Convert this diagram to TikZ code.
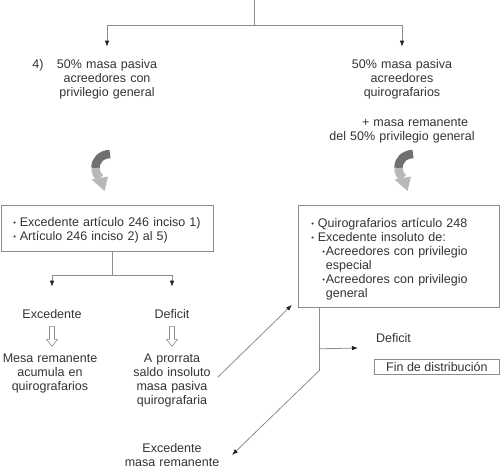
\documentclass[tikz,border=0pt]{standalone}
\usepackage{fontspec}
\setmainfont{Liberation Sans}
\usepackage{graphicx}
\usetikzlibrary{arrows.meta,calc}
\definecolor{linec}{HTML}{8C8C8C}
\definecolor{txtc}{HTML}{333333}
\definecolor{tipc}{HTML}{222222}
\definecolor{darkarr}{HTML}{707070}
\definecolor{lightarr}{HTML}{B8B8B8}
\newcommand{\bul}{\raisebox{0.7pt}{\scalebox{0.6}{•}}}
\newcommand{\tb}[1]{\makebox[6.5pt][l]{\bul}#1}
\newcommand{\sbl}[1]{\hspace*{11pt}\makebox[3.5pt][l]{\bul}#1}
\newcommand{\cnt}[1]{\hspace*{14.5pt}#1}
\begin{document}
\begin{tikzpicture}[x=1pt,y=-1pt,
  font=\fontsize{12.5}{14}\selectfont, text=txtc,
  conn/.style={draw=linec, line width=0.8pt},
  arr/.style={conn, -{Latex[length=6pt,width=4.5pt,color=tipc]}},
  txt/.style={inner sep=0pt, text width=#1, align=center, anchor=base},
  lbl/.style={inner sep=0pt, anchor=base},
  box/.style={draw=linec, line width=0.8pt, inner ysep=0pt, align=left, anchor=north west},
  hollow/.pic={\draw[linec, line width=0.6pt, fill=white] (-2.5,0) -- (-2.5,13) -- (-5.5,13) -- (0,20) -- (5.5,13) -- (2.5,13) -- (2.5,0) -- cycle;},
  curv/.pic={
    \draw[darkarr, line width=8.5pt] (10,-16) .. controls (1,-15.5) and (-4.5,-10) .. (-4.5,-2);
    \draw[lightarr, line width=8.5pt] (-4.5,-2) .. controls (-4.5,2) and (-3,5) .. (0,8);
    \fill[lightarr] (-8.5,9.5) -- (8,6.5) -- (4.5,21) -- cycle;}
]
\useasboundingbox (0,0) rectangle (500,468);

% top branch
\coordinate (t0) at (254,0);
\coordinate (t1) at (254,25);
\node[txt=120pt] (lt) at (107,69) {50\% masa pasiva\\acreedores con\\privilegio general};
\node[lbl] (lt4) at (38,69) {4)};
\node[txt=150pt] (rt) at (402,69) {50\% masa pasiva\\acreedores\\quirografarios};
\node[txt=160pt] (rt2) at (402,126) {\hspace*{26pt}+ masa remanente\\del 50\% privilegio general};
\draw[conn] (t0) -- (t1);
\draw[arr, shorten >=13pt] (t1) -| (lt.north);
\draw[arr, shorten >=13pt] (t1) -| (rt.north);

% curved arrows
\pic at (100,170) {curv};
\pic at (403,170) {curv};

% left box
\node[box, minimum width=212pt, text width=188pt, inner xsep=12pt, text height=21pt, text depth=25pt] (lb) at (1,205)
  {\tb{Excedente artículo 246 inciso 1)}\\\tb{Artículo 246 inciso 2) al 5)}};
\coordinate (lj0) at ([xshift=5pt]lb.south);
\coordinate (lj1) at ([xshift=5pt,yshift=-24pt]lb.south);
\node[lbl] (exc) at (52,318) {Excedente};
\node[lbl] (def) at (172,318) {Deficit};
\draw[conn] (lj0) -- (lj1);
\draw[arr, shorten >=22pt] (lj1) -| (exc.north);
\draw[arr, shorten >=22pt] (lj1) -| (def.north);
\pic at ([yshift=-8pt]exc.south) {hollow};
\pic at ([yshift=-8pt]def.south) {hollow};
\node[txt=110pt] (mesa) at (50,362) {Mesa remanente\\acumula en\\quirografarios};
\node[txt=110pt] (pro) at (172,362) {A prorrata\\saldo insoluto\\masa pasiva\\quirografaria};

% right box
\node[box, minimum width=201pt, text width=175pt, inner xsep=13pt, text height=22pt, text depth=80pt] (rb) at (298,205)
  {\tb{Quirografarios artículo 248}\\
   \tb{Excedente insoluto de:}\\
   \sbl{Acreedores con privilegio}\\
   \cnt{especial}\\
   \sbl{Acreedores con privilegio}\\
   \cnt{general}};
\coordinate (rv0) at ([xshift=21pt]rb.south west);
\coordinate (rvm) at ([xshift=21pt,yshift=-41pt]rb.south west);
\coordinate (rv1) at ([xshift=21pt,yshift=-63pt]rb.south west);
\coordinate (rdt) at (358,348);
\draw[conn] (rv0) -- (rv1);
\draw[arr] (rvm) -- (rdt);
\node[lbl, anchor=base west] (rdef) at (376,342) {Deficit};
\node[box, minimum width=125pt, inner xsep=0pt, text height=12pt, text depth=3pt, align=center] (fin) at (374,359) {Fin de distribución};

% diagonals
\coordinate (pa) at (218,377);
\coordinate (rbt) at ([xshift=-6pt,yshift=3pt]rb.south west);
\draw[arr] (pa) -- (rbt);
\node[txt=110pt] (bexc) at (172,452) {Excedente\\masa remanente};
\coordinate (bt) at (232,455);
\draw[arr] (rv1) -- (bt);
\end{tikzpicture}
\end{document}
